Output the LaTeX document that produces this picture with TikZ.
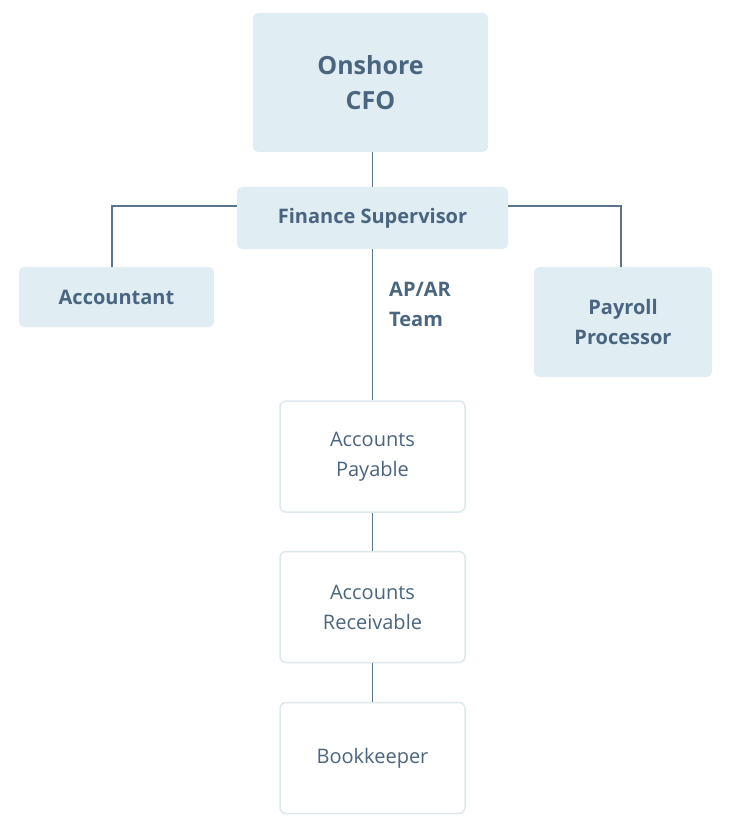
\documentclass[tikz,border=0pt]{standalone}
\usepackage{fontspec}
\setmainfont{Open Sans}
\usetikzlibrary{positioning}
\definecolor{txt}{HTML}{4A6580}
\definecolor{boxfill}{HTML}{E0EDF2}
\definecolor{boxline}{HTML}{DCE8EC}
\tikzset{
  role/.style={fill=boxfill,rounded corners=5pt,align=center,text=txt,font=\bfseries\fontsize{20}{30}\selectfont,inner sep=0pt},
  team/.style={draw=boxline,line width=1.5pt,fill=white,rounded corners=6pt,align=center,text=txt,font=\fontsize{20}{30}\selectfont,minimum width=185pt,minimum height=111pt,inner sep=0pt},
  link/.style={draw=txt!90,line width=1.3pt}
}
\begin{document}
\begin{tikzpicture}[x=1pt,y=-1pt]
\useasboundingbox (0,0) rectangle (730,834);
\node[role,minimum width=235pt,minimum height=139pt,font=\bfseries\fontsize{25}{35}\selectfont] (cfo) at (370.5,82.5) {Onshore\\CFO};
\node[role,minimum width=271pt,minimum height=62pt] (fs) at (372.5,218) {Finance Supervisor};
\node[role,minimum width=195pt,minimum height=60pt] (acc) at (116.5,297) {Accountant};
\node[role,minimum width=178pt,minimum height=110pt] (pay) at (623,322) {Payroll\\Processor};
\node[text=txt,font=\bfseries\fontsize{20}{30}\selectfont,align=left,anchor=north west,inner sep=0pt] (apar) at (389,282) {AP/AR\\Team};
\node[team] (ap) at (372.5,456.5) {Accounts\\Payable};
\node[team] (ar) at (372.5,607) {Accounts\\Receivable};
\node[team] (bk) at (372.5,758) {Bookkeeper};
\coordinate (fsl) at (237,206);
\coordinate (fsr) at (508,206);
\draw[link] (cfo.south -| fs.north) -- (fs.north);
\draw[link] (fsl) -| (acc.north -| 112,0);
\draw[link] (fsr) -| (pay.north -| 621,0);
\draw[link] (fs.south) -- (ap.north);
\draw[link] (ap) -- (ar);
\draw[link] (ar) -- (bk);
\end{tikzpicture}
\end{document}
